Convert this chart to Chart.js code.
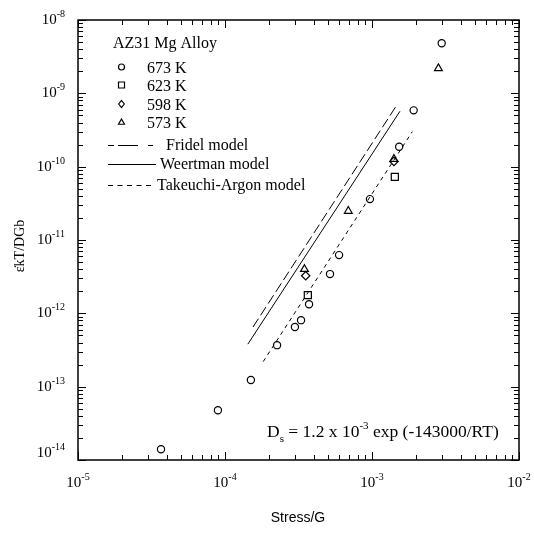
<!DOCTYPE html>
<html>
<head>
<meta charset="utf-8">
<script src="https://cdn.jsdelivr.net/npm/chart.js@4/dist/chart.umd.min.js"></script>
<style>
  html, body { margin: 0; padding: 0; background: #fff; }
  #wrap { width: 534px; height: 535px; }
</style>
</head>
<body>
<div id="wrap"><canvas id="creep" width="534" height="535"></canvas></div>
<script>
// Creep data, AZ31 Mg alloy: normalised strain rate vs normalised stress

const K673_X = [3.67e-5, 8.95e-5, 1.50e-4, 2.26e-4, 2.99e-4, 3.29e-4, 3.73e-4, 5.18e-4, 5.97e-4, 9.68e-4, 1.53e-3, 1.92e-3, 2.98e-3];
const K673_Y = [1.40e-14, 4.78e-14, 1.23e-13, 3.68e-13, 6.5e-13, 8.07e-13, 1.33e-12, 3.43e-12, 6.22e-12, 3.61e-11, 1.87e-10, 5.86e-10, 4.81e-9];
const K623_X = [3.66e-4, 1.43e-3];
const K623_Y = [1.77e-12, 7.27e-11];
const K598_X = [3.54e-4, 1.41e-3];
const K598_Y = [3.25e-12, 1.18e-10];
const K573_X = [3.47e-4, 6.90e-4, 1.41e-3, 2.83e-3];
const K573_Y = [4.0e-12, 2.48e-11, 1.27e-10, 2.19e-9];

// model lines (end points)
const FRIDEL_X = [1.55e-4, 1.46e-3];
const FRIDEL_Y = [6.5e-13, 6.7e-10];
const WEERTMAN_X = [1.43e-4, 1.55e-3];
const WEERTMAN_Y = [3.8e-13, 5.7e-10];
const TAKEUCHI_X = [1.82e-4, 1.88e-3];
const TAKEUCHI_Y = [2.2e-13, 3.0e-10];

const X_DECADES = [-5, -4, -3, -2];
const Y_DECADES = [-14, -13, -12, -11, -10, -9, -8];
const MINORS = [2, 3, 4, 5, 6, 7, 8, 9];

const SERIES_LABELS = ['673 K', '623 K', '598 K', '573 K'];
const MODEL_LABELS = ['Fridel model', 'Weertman model', 'Takeuchi-Argon model'];

const SERIF = '"Liberation Serif", "Times New Roman", serif';
const SANS = '"Liberation Sans", Arial, sans-serif';

const pts = (xs, ys) => xs.map((v, i) => ({ x: v, y: ys[i] }));

function tickValues(decades) {
  const out = [];
  decades.forEach((d, i) => {
    out.push({ v: Math.pow(10, d), major: true, exp: d });
    if (i < decades.length - 1) MINORS.forEach(m => out.push({ v: m * Math.pow(10, d), major: false }));
  });
  return out;
}

function drawPow(ctx, x, y, exp, align) {
  // "10" with superscript exponent; x is anchor, y is baseline
  ctx.font = '15px ' + SERIF;
  const base = '10';
  const bw = ctx.measureText(base).width;
  ctx.font = '10px ' + SERIF;
  const sup = String(exp);
  const sw = ctx.measureText(sup).width;
  const w = bw + sw;
  let x0 = align === 'right' ? x - w : x - w / 2;
  ctx.textAlign = 'left';
  ctx.font = '15px ' + SERIF;
  ctx.fillText(base, x0, y);
  ctx.font = '10px ' + SERIF;
  ctx.fillText(sup, x0 + bw, y - 7);
}

function marker(ctx, style, x, y, r) {
  ctx.beginPath();
  if (style === 'circle') {
    ctx.arc(x, y, r, 0, Math.PI * 2);
  } else if (style === 'rect') {
    ctx.rect(x - r, y - r, 2 * r, 2 * r);
  } else if (style === 'rectRot') {
    ctx.moveTo(x, y - r); ctx.lineTo(x + r * 0.8, y); ctx.lineTo(x, y + r); ctx.lineTo(x - r * 0.8, y); ctx.closePath();
  } else {
    ctx.moveTo(x, y - r); ctx.lineTo(x + r, y + r * 0.75); ctx.lineTo(x - r, y + r * 0.75); ctx.closePath();
  }
  ctx.stroke();
}

const framePlugin = {
  id: 'frame',
  afterDraw(chart) {
    const { ctx, chartArea: a, scales: { x, y } } = chart;
    ctx.save();
    ctx.strokeStyle = '#000';
    ctx.fillStyle = '#000';
    ctx.lineWidth = 1.5;
    ctx.strokeRect(a.left, a.top, a.right - a.left, a.bottom - a.top);

    // inward ticks on all four sides
    ctx.lineWidth = 1;
    ctx.beginPath();
    tickValues(X_DECADES).forEach(t => {
      const px = Math.round(x.getPixelForValue(t.v)) + 0.5;
      const len = t.major ? 8 : 5;
      ctx.moveTo(px, a.bottom); ctx.lineTo(px, a.bottom - len);
      ctx.moveTo(px, a.top); ctx.lineTo(px, a.top + len);
    });
    tickValues(Y_DECADES).forEach(t => {
      const py = Math.round(y.getPixelForValue(t.v)) + 0.5;
      const len = t.major ? 8 : 5;
      ctx.moveTo(a.left, py); ctx.lineTo(a.left + len, py);
      ctx.moveTo(a.right, py); ctx.lineTo(a.right - len, py);
    });
    ctx.stroke();

    // tick labels
    ctx.textBaseline = 'alphabetic';
    X_DECADES.forEach(d => drawPow(ctx, x.getPixelForValue(Math.pow(10, d)), 487, d, 'center'));
    Y_DECADES.forEach(d => {
      const py = y.getPixelForValue(Math.pow(10, d));
      const shift = d === Y_DECADES[0] ? 7 : 0;
      drawPow(ctx, 65, py + 4 - shift, d, 'right');
    });

    // axis titles
    ctx.font = '14px ' + SANS;
    ctx.textAlign = 'center';
    ctx.fillText('Stress/G', 298, 522);
    ctx.save();
    ctx.translate(24, 246);
    ctx.rotate(-Math.PI / 2);
    ctx.font = '14px ' + SERIF;
    ctx.fillText('\u03B5\u0307kT/DGb', 0, 0);
    ctx.restore();

    // legend
    ctx.textAlign = 'left';
    ctx.font = '16px ' + SERIF;
    ctx.fillText('AZ31 Mg Alloy', 113, 48);
    const styles = ['circle', 'rect', 'rectRot', 'triangle'];
    const rowsY = [68, 86, 105, 123];
    SERIES_LABELS.forEach((lab, i) => {
      ctx.lineWidth = 1.2;
      marker(ctx, styles[i], 121.5, rowsY[i] - 1, i === 2 ? 3.5 : 3);
      ctx.fillText(lab, 147, rowsY[i] + 5);
    });
    const lineY = [145, 164, 185];
    ctx.lineWidth = 1;
    // Fridel: short - long - short
    ctx.beginPath();
    [[108, 114], [118, 138], [148, 153]].forEach(s => { ctx.moveTo(s[0], lineY[0] + 0.5); ctx.lineTo(s[1], lineY[0] + 0.5); });
    ctx.stroke();
    ctx.beginPath();
    ctx.moveTo(108, lineY[1] + 0.5); ctx.lineTo(156, lineY[1] + 0.5);
    ctx.stroke();
    ctx.setLineDash([5, 4.5]);
    ctx.beginPath();
    ctx.moveTo(108, lineY[2] + 0.5); ctx.lineTo(155, lineY[2] + 0.5);
    ctx.stroke();
    ctx.setLineDash([]);
    ctx.fillText(MODEL_LABELS[0], 166, lineY[0] + 5);
    ctx.fillText(MODEL_LABELS[1], 160, lineY[1] + 5);
    ctx.fillText(MODEL_LABELS[2], 157, lineY[2] + 5);

    // diffusion coefficient note
    let cx = 267;
    const by = 437;
    const seg = (txt, size, dy) => {
      ctx.font = size + 'px ' + SERIF;
      ctx.fillText(txt, cx, by + dy);
      cx += ctx.measureText(txt).width;
    };
    seg('D', 17.5, 0);
    seg('s', 11, 5);
    seg(' = 1.2 x 10', 17.5, 0);
    seg('-3', 11, -8);
    seg(' exp (-143000/RT)', 17.5, 0);

    ctx.restore();
  }
};

const scatter = (xs, ys, style, r) => ({
  data: pts(xs, ys),
  showLine: false,
  pointStyle: style,
  pointRadius: r,
  pointBorderWidth: 1.2,
  borderColor: '#000',
  backgroundColor: 'rgba(0,0,0,0)',
});

const model = (xs, ys, dash) => ({
  data: pts(xs, ys),
  showLine: true,
  borderColor: '#000',
  borderWidth: 1,
  borderDash: dash,
  pointRadius: 0,
  fill: false,
});

new Chart(document.getElementById('creep'), {
  type: 'scatter',
  data: {
    datasets: [
      model(FRIDEL_X, FRIDEL_Y, [10, 4]),
      model(WEERTMAN_X, WEERTMAN_Y, []),
      model(TAKEUCHI_X, TAKEUCHI_Y, [4, 4]),
      scatter(K673_X, K673_Y, 'circle', 3.6),
      scatter(K623_X, K623_Y, 'rect', 5),
      scatter(K598_X, K598_Y, 'rectRot', 4.2),
      scatter(K573_X, K573_Y, 'triangle', 4.5),
    ],
  },
  options: {
    responsive: false,
    animation: false,
    layout: { padding: { top: 20, right: 15, left: 0, bottom: 0 } },
    plugins: { legend: { display: false }, tooltip: { enabled: false } },
    scales: {
      x: {
        type: 'logarithmic', min: 1e-5, max: 1e-2,
        ticks: { display: false },
        grid: { display: false },
        border: { display: false },
        afterFit: s => { s.height = 75; },
      },
      y: {
        type: 'logarithmic', min: 1e-14, max: 1e-8,
        ticks: { display: false },
        grid: { display: false },
        border: { display: false },
        afterFit: s => { s.width = 78; },
      },
    },
  },
  plugins: [framePlugin],
});
</script>
</body>
</html>
